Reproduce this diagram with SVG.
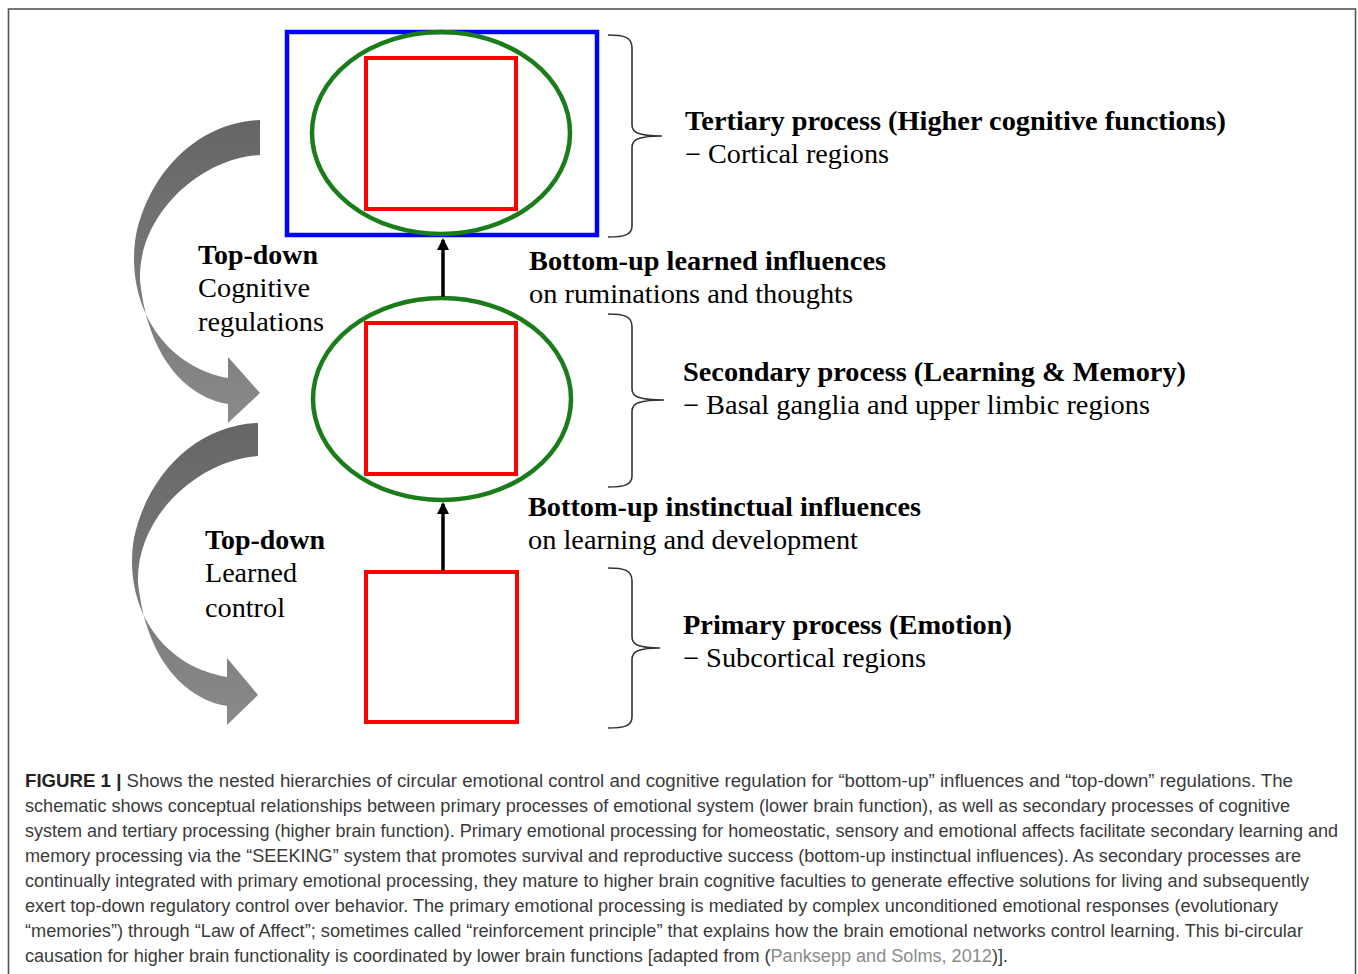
<svg xmlns="http://www.w3.org/2000/svg" width="1358" height="974" viewBox="0 0 1358 974">
<defs>
<style>
.ser{font-family:"Liberation Serif","Times New Roman",serif;font-size:27px;fill:#000}
.b{font-weight:bold}
.cap{font-family:"Liberation Sans",Arial,sans-serif;font-size:17.5px;fill:#3a3a3a}
.brace{fill:none;stroke:#333;stroke-width:1.6}
.green{fill:none;stroke:#1a7d1a;stroke-width:4.5}
.red{fill:none;stroke:#ff0000;stroke-width:4}
.conn{stroke:#000;stroke-width:3.5;fill:none}
</style>
<linearGradient id="g" x1="0" y1="0" x2="0" y2="1">
<stop offset="0" stop-color="#656565"/>
<stop offset="1" stop-color="#8a8a8a"/>
</linearGradient>
<marker id="ah" markerWidth="12" markerHeight="12" refX="10" refY="6" orient="auto" markerUnits="userSpaceOnUse">
<path d="M0,0 L12,6 L0,12 Z" fill="#000"/>
</marker>
</defs>
<rect width="1358" height="974" fill="#fff"/>
<rect x="8.5" y="9" width="1347" height="980" fill="none" stroke="#555" stroke-width="1.6"/>

<g id="tertiary">
<rect x="287" y="32" width="310" height="203" fill="none" stroke="#0000ff" stroke-width="4.5"/>
<ellipse cx="441" cy="133" rx="129" ry="101" class="green"/>
<rect x="366" y="58" width="150" height="151" class="red"/>
</g>
<g id="secondary">
<ellipse cx="442" cy="399" rx="129" ry="101" class="green"/>
<rect x="366" y="323" width="150" height="151" class="red"/>
</g>
<g id="primary">
<rect x="366" y="572" width="151" height="150" class="red"/>
</g>

<g id="connectors">
<line x1="443" y1="297" x2="443" y2="240" class="conn" marker-end="url(#ah)"/>
<line x1="443" y1="571" x2="443" y2="504" class="conn" marker-end="url(#ah)"/>
<path d="M260,120 C200,122 150,170 136,235 C125,300 160,365 228,378 L228,357 L260,393 L228,423 L228,404 C189,398 148,360 140,280 C138,215 200,158 260,155 Z" fill="url(#g)"/>
<path d="M258,423 C198,425 148,473 134,538 C123,603 158,665 227,677 L227,658 L258,695 L227,725 L227,706 C188,700 146,662 138,582 C136,517 198,460 258,456 Z" fill="url(#g)"/>
</g>

<g id="braces">
<path class="brace" d="M608,35 C624,35 632,37 632,48 L632,125 C632,133 640,136 662,136 C640,136 632,139 632,147 L632,226 C632,235 624,237 608,237"/>
<path class="brace" d="M608,314 C624,314 632,316 632,327 L632,389 C632,397 640,400 664,400 C640,400 632,403 632,411 L632,476 C632,485 624,487 608,487"/>
<path class="brace" d="M608,568 C624,568 632,570 632,581 L632,637 C632,645 640,648 660,648 C640,648 632,651 632,659 L632,717 C632,726 624,728 608,728"/>
</g>

<g id="labels">
<text class="ser b" x="198" y="264" textLength="120" lengthAdjust="spacingAndGlyphs">Top-down</text>
<text class="ser" x="198" y="297" textLength="112" lengthAdjust="spacingAndGlyphs">Cognitive</text>
<text class="ser" x="198" y="331" textLength="126" lengthAdjust="spacingAndGlyphs">regulations</text>
<text class="ser b" x="205" y="549" textLength="120" lengthAdjust="spacingAndGlyphs">Top-down</text>
<text class="ser" x="205" y="582" textLength="92" lengthAdjust="spacingAndGlyphs">Learned</text>
<text class="ser" x="205" y="617" textLength="80" lengthAdjust="spacingAndGlyphs">control</text>

<text class="ser b" x="685" y="130" textLength="541" lengthAdjust="spacingAndGlyphs">Tertiary process (Higher cognitive functions)</text>
<text class="ser" x="685" y="163" textLength="204" lengthAdjust="spacingAndGlyphs">− Cortical regions</text>
<text class="ser b" x="529" y="270" textLength="357" lengthAdjust="spacingAndGlyphs">Bottom-up learned influences</text>
<text class="ser" x="529" y="303" textLength="324" lengthAdjust="spacingAndGlyphs">on ruminations and thoughts</text>
<text class="ser b" x="683" y="381" textLength="503" lengthAdjust="spacingAndGlyphs">Secondary process (Learning &amp; Memory)</text>
<text class="ser" x="683" y="414" textLength="467" lengthAdjust="spacingAndGlyphs">− Basal ganglia and upper limbic regions</text>
<text class="ser b" x="528" y="516" textLength="393" lengthAdjust="spacingAndGlyphs">Bottom-up instinctual influences</text>
<text class="ser" x="528" y="549" textLength="330" lengthAdjust="spacingAndGlyphs">on learning and development</text>
<text class="ser b" x="683" y="634" textLength="329" lengthAdjust="spacingAndGlyphs">Primary process (Emotion)</text>
<text class="ser" x="683" y="667" textLength="243" lengthAdjust="spacingAndGlyphs">− Subcortical regions</text>
</g>

<g id="caption">
<text class="cap" x="25" y="787" textLength="1268" lengthAdjust="spacingAndGlyphs"><tspan font-weight="bold" fill="#222">FIGURE 1 |</tspan> Shows the nested hierarchies of circular emotional control and cognitive regulation for “bottom-up” influences and “top-down” regulations. The</text>
<text class="cap" x="25" y="812" textLength="1265" lengthAdjust="spacingAndGlyphs">schematic shows conceptual relationships between primary processes of emotional system (lower brain function), as well as secondary processes of cognitive</text>
<text class="cap" x="25" y="837" textLength="1313" lengthAdjust="spacingAndGlyphs">system and tertiary processing (higher brain function). Primary emotional processing for homeostatic, sensory and emotional affects facilitate secondary learning and</text>
<text class="cap" x="25" y="862" textLength="1276" lengthAdjust="spacingAndGlyphs">memory processing via the “SEEKING” system that promotes survival and reproductive success (bottom-up instinctual influences). As secondary processes are</text>
<text class="cap" x="25" y="887" textLength="1284" lengthAdjust="spacingAndGlyphs">continually integrated with primary emotional processing, they mature to higher brain cognitive faculties to generate effective solutions for living and subsequently</text>
<text class="cap" x="25" y="912" textLength="1253" lengthAdjust="spacingAndGlyphs">exert top-down regulatory control over behavior. The primary emotional processing is mediated by complex unconditioned emotional responses (evolutionary</text>
<text class="cap" x="25" y="937" textLength="1278" lengthAdjust="spacingAndGlyphs">“memories”) through “Law of Affect”; sometimes called “reinforcement principle” that explains how the brain emotional networks control learning. This bi-circular</text>
<text class="cap" x="25" y="962" textLength="983" lengthAdjust="spacingAndGlyphs">causation for higher brain functionality is coordinated by lower brain functions [adapted from (<tspan fill="#8a8a8a">Panksepp and Solms, 2012</tspan>)].</text>
</g>
</svg>
